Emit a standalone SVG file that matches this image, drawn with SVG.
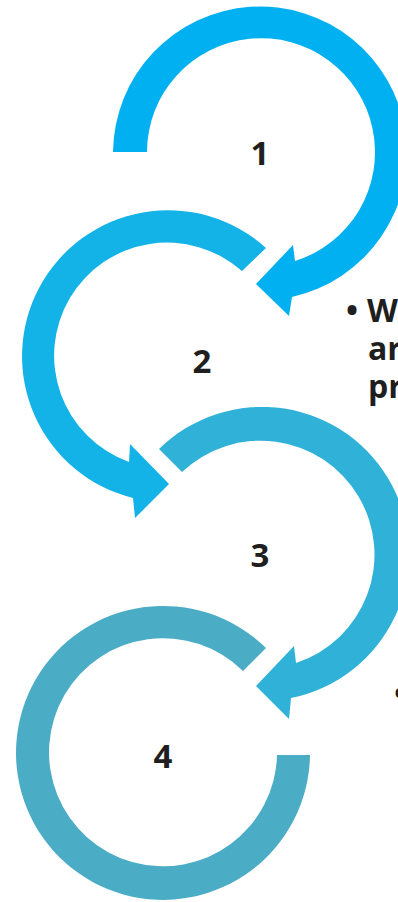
<svg xmlns="http://www.w3.org/2000/svg" width="398" height="902" viewBox="0 0 398 902">
<style>
.num{font-family:"Open Sans","DejaVu Sans",sans-serif;font-weight:bold;font-size:33px;fill:#1f1f1f;text-anchor:middle}
.txt{font-family:"Open Sans","DejaVu Sans",sans-serif;font-weight:bold;font-size:32px;fill:#1f1f1f}
</style>
<rect width="398" height="902" fill="#ffffff"/>
<g id="connectors">
<path id="arrow1" fill="#00B0F0" d="M113,152 A147,147 0 1 1 292,297 L289,316 L256,284 L293,245 L295,261 A114,114 0 1 0 147,152 Z"/>
<path id="arrow2" fill="#13B2E7" d="M266,248 A146,146 0 1 0 133,498 L135,518 L169,484 L130,444 L129,462 A113,113 0 1 1 242,271 Z"/>
<path id="arrow3" fill="#30B1D8" d="M159,449 A147,147 0 1 1 291,698 L289,719 L256,686 L294,646 L296,663 A114,114 0 1 0 182,472 Z"/>
<path id="arrow4" fill="#4BACC6" d="M266,648 A147,147 0 1 0 310,755 L277,755 A114,114 0 1 1 243,671 Z"/>
</g>
<g id="node1"><text class="num" x="260" y="165">1</text></g>
<g id="node2"><text class="num" x="202" y="373">2</text></g>
<g id="node3"><text class="num" x="260" y="567">3</text></g>
<g id="node4"><text class="num" x="163" y="768">4</text></g>
<g id="text1">
<text class="txt" x="352" y="322" text-anchor="middle">•</text>
<text class="txt" x="367" y="322">W</text>
<text class="txt" x="368" y="360">ar</text>
<text class="txt" x="368" y="398">pr</text>
</g>
<g id="text2"><text class="txt" x="400" y="705" text-anchor="middle">•</text></g>
</svg>
